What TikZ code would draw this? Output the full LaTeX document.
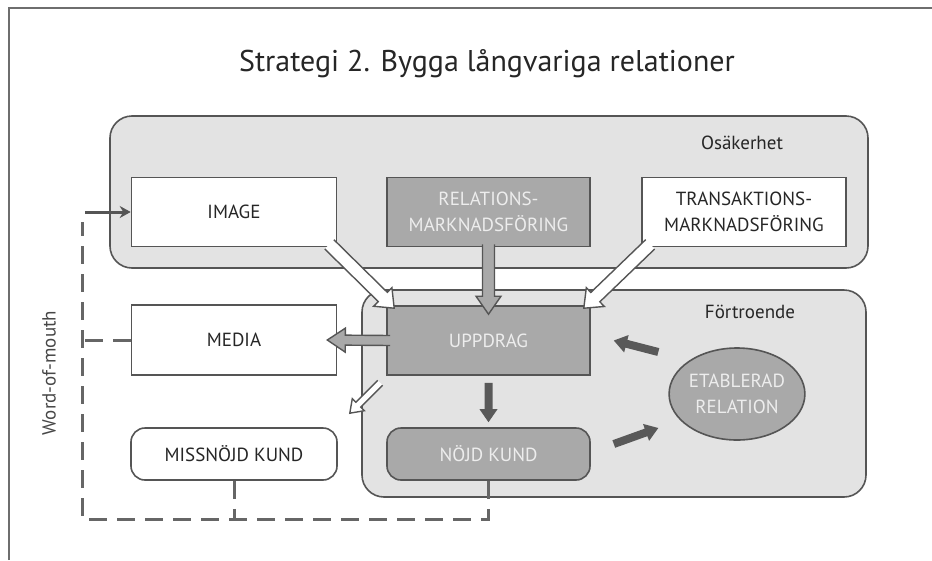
\documentclass[tikz,border=0pt]{standalone}
\usepackage{fontspec}
\setmainfont{PT Sans}
\usetikzlibrary{calc,arrows.meta,shapes.geometric}

\definecolor{edge}{HTML}{555555}
\definecolor{region}{HTML}{E3E3E3}
\definecolor{midgray}{HTML}{A9A9A9}
\definecolor{ink}{HTML}{262626}
\definecolor{paleink}{HTML}{EDEDED}
\definecolor{darkfill}{HTML}{595959}
\definecolor{framec}{HTML}{6E6E6E}

% Block arrow: #1 fill colour, #2 from, #3 to,
% #4 shaft half width, #5 head half width, #6 head length.
% The tail edge is left unstroked so the shaft merges into its source box.
\newcommand\blockarrow[6]{%
  \coordinate (ba-s) at (#2);
  \coordinate (ba-e) at (#3);
  \coordinate (ba-b) at ($(ba-e)!#6!(ba-s)$);
  \fill[#1] ($(ba-s)!#4!90:(ba-e)$) -- ($(ba-b)!#4!90:(ba-e)$)
    -- ($(ba-b)!#5!90:(ba-e)$) -- (ba-e) -- ($(ba-b)!#5!-90:(ba-e)$)
    -- ($(ba-b)!#4!-90:(ba-e)$) -- ($(ba-s)!#4!-90:(ba-e)$) -- cycle;
  \draw[edge, line width=1.4pt, line join=miter] ($(ba-s)!#4!90:(ba-e)$) -- ($(ba-b)!#4!90:(ba-e)$)
    -- ($(ba-b)!#5!90:(ba-e)$) -- (ba-e) -- ($(ba-b)!#5!-90:(ba-e)$)
    -- ($(ba-b)!#4!-90:(ba-e)$) -- ($(ba-s)!#4!-90:(ba-e)$);
}
% Solid dark arrow without outline
\newcommand\darkarrow[2]{%
  \coordinate (da-s) at (#1);
  \coordinate (da-e) at (#2);
  \coordinate (da-b) at ($(da-e)!13pt!(da-s)$);
  \fill[darkfill] ($(da-s)!4pt!90:(da-e)$) -- ($(da-b)!4pt!90:(da-e)$)
    -- ($(da-b)!9pt!90:(da-e)$) -- (da-e) -- ($(da-b)!9pt!-90:(da-e)$)
    -- ($(da-b)!4pt!-90:(da-e)$) -- ($(da-s)!4pt!-90:(da-e)$) -- cycle;
}

\begin{document}
\begin{tikzpicture}[x=1pt, y=-1pt,
  txt/.style={font=\fontsize{19}{26}\selectfont, text=ink, align=center},
  whitebox/.style={draw=edge, line width=1.6pt, fill=white, txt,
    minimum width=205pt, minimum height=69pt, inner sep=0pt},
  graybox/.style={whitebox, fill=midgray, text=paleink},
  zone/.style={draw=edge, line width=1.6pt, fill=region, rounded corners=22pt,
    inner sep=0pt},
  wom/.style={draw=edge!90, line width=3pt, dash pattern=on 18pt off 10pt},
]
\useasboundingbox (0,0) rectangle (932,560);

% page frame (top and left rules)
\draw[framec, line width=2pt] (9,560) -- (9,8) -- (932,8);

% title
\node (title) at (487,64) {\fontsize{30}{36}\selectfont\color{ink}Strategi 2. Bygga långvariga relationer};

% the two zones
\node[zone, minimum width=758pt, minimum height=152pt] (osak) at (489,192) {};
\node[zone, minimum width=504pt, minimum height=207pt] (fort) at (614,393.5) {};
\node[txt] (osaklbl) at (742,143) {Osäkerhet};
\node[txt] (fortlbl) at (750,312) {Förtroende};

% word-of-mouth feedback loop
\node[txt, rotate=90, text=ink!85] (wordlbl) at (49,373) {Word-of-mouth};

% boxes
\node[whitebox] (image) at (234,212) {IMAGE};
\node[graybox, minimum width=203pt] (rel) at (488.5,212) {RELATIONS-\\MARKNADSFÖRING};
\node[whitebox, minimum width=204pt] (trans) at (744,212) {TRANSAKTIONS-\\MARKNADSFÖRING};
\node[whitebox, minimum height=70pt] (media) at (234,340) {MEDIA};
\node[graybox, minimum width=203pt] (upp) at (488.5,340.5) {UPPDRAG};
\node[graybox, minimum width=203pt, minimum height=52pt, rounded corners=14pt] (nojd) at (488.5,454) {NÖJD KUND};
\node[whitebox, minimum width=206pt, minimum height=52pt, rounded corners=14pt] (missn) at (234,454) {MISSNÖJD KUND};
\node[ellipse, draw=edge, line width=1.6pt, fill=midgray, txt, text=paleink,
  minimum width=132pt, minimum height=92pt, inner sep=0pt] (etab) at (737,394) {ETABLERAD\\RELATION};

% dashed word-of-mouth path
\coordinate (loopbl) at (82,519);
\coordinate (looptop) at (82,222);
\draw[wom] (nojd.south) |- (loopbl) -- (looptop);
\draw[wom] (media.west) -- (media.west -| loopbl);
\draw[wom] (missn.south) -- (missn.south |- loopbl);
\draw[edge, line width=3pt, -{Stealth[length=11pt,width=12pt]}] (looptop |- image.west) ++(3,0) -- (image.west);

% block arrows into UPPDRAG
\blockarrow{white}{$(image.south east)+(-8,-3)$}{$(upp.north west)+(8,3)$}{6.5pt}{13pt}{16pt}
\blockarrow{white}{$(trans.south west)+(9,-3)$}{$(upp.north east)+(-7,3)$}{6.5pt}{13pt}{16pt}
\blockarrow{midgray}{$(rel.south)+(0,-3)$}{$(upp.north)+(0,9)$}{6pt}{12.5pt}{18pt}
% out of UPPDRAG
\blockarrow{midgray}{$(upp.west)+(4,0)$}{$(media.east)+(-10,0)$}{5pt}{12pt}{18pt}
\blockarrow{white}{$(upp.south west)+(-6,7)$}{$(missn.north east)+(12,-14)$}{3.5pt}{8.5pt}{12pt}

% cycle of trust
\darkarrow{$(upp.south)+(0,7)$}{$(nojd.north)+(0,-5)$}
\darkarrow{$(etab.west)+(-10,-42)$}{$(upp.east)+(23,0)$}
\darkarrow{$(nojd.east)+(23,-10)$}{$(etab.west)+(-10,34)$}
\end{tikzpicture}
\end{document}
